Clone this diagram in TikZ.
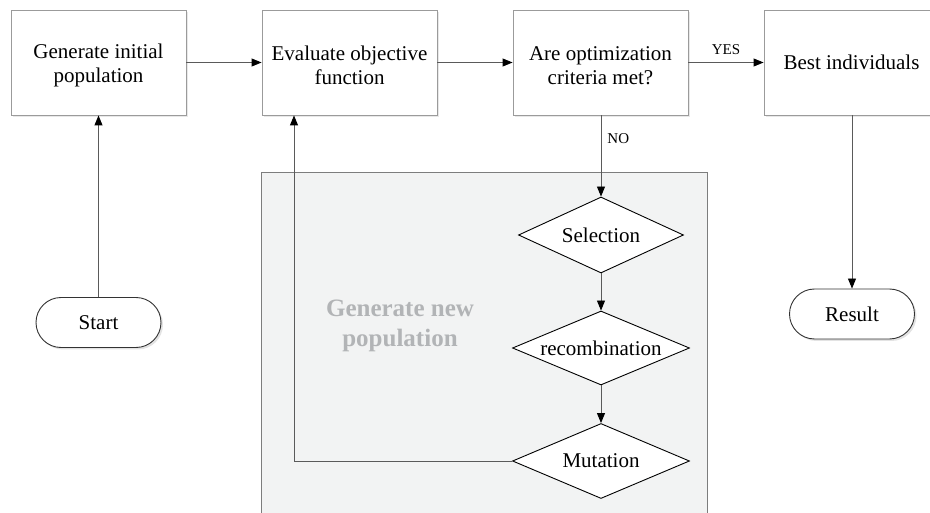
\documentclass[tikz,border=0pt]{standalone}
\usepackage{fontspec}
\setmainfont{Liberation Serif}
\usetikzlibrary{shapes.geometric,shapes.misc,arrows.meta,shadows}
\definecolor{boxline}{RGB}{155,155,155}
\definecolor{panelfill}{RGB}{242,243,243}
\definecolor{panelline}{RGB}{125,125,125}
\definecolor{connline}{RGB}{90,90,90}
\definecolor{paneltext}{RGB}{178,180,182}
\newcommand{\toplift}{\rule{0pt}{19.5pt}}
\begin{document}
\begin{tikzpicture}[x=1pt,y=-1pt,
  procbox/.style={draw=boxline, fill=white, line width=0.9pt, minimum width=175pt, minimum height=105pt,
    align=center, inner sep=0pt, font=\fontsize{21}{24}\selectfont,
    drop shadow={opacity=0.18, shadow xshift=2pt, shadow yshift=-2pt}},
  termbox/.style={rounded rectangle, draw=black!80, fill=white, line width=0.9pt, minimum width=125pt,
    minimum height=50pt, inner sep=0pt, font=\fontsize{21}{24}\selectfont,
    drop shadow={opacity=0.22, shadow xshift=2pt, shadow yshift=-2pt}},
  decbox/.style={diamond, aspect=2.3, draw=black, fill=white, line width=0.9pt, inner sep=0pt,
    font=\fontsize{21}{24}\selectfont},
  connector/.style={draw=connline, line width=0.9pt, -{Triangle[length=10pt,width=8pt,color=black]}},
  lbl/.style={font=\fontsize{15}{18}\selectfont, inner sep=0pt}]
\useasboundingbox (0,0) rectangle (930,513);
% panel
\node[draw=panelline, fill=panelfill, line width=0.9pt, anchor=north west, minimum width=446pt,
  minimum height=370pt, inner sep=0pt] (panel) at (261,172) {};
\node[font=\bfseries\fontsize{25}{30}\selectfont, text=paneltext, align=center] (gnp) at (400,326)
  {Generate new\\population};
% process boxes
\node[procbox] (gen) at (98.5,62.5) {\toplift Generate initial\\population};
\node[procbox] (eval) at (349.5,62.5) {\toplift Evaluate objective\\function};
\node[procbox] (crit) at (600.5,62.5) {\toplift Are optimization\\criteria met?};
\node[procbox] (best) at (851.5,62.5) {Best individuals};
% terminals
\node[termbox] (start) at (98.5,322.5) {Start};
\node[termbox] (result) at (852,314) {Result};
% decisions
\node[decbox, minimum width=165pt, minimum height=76pt] (sel) at (601,235) {Selection};
\node[decbox, minimum width=177pt, minimum height=74pt] (rec) at (601,348) {recombination};
\node[decbox, minimum width=177pt, minimum height=75pt] (mut) at (601,461) {Mutation};
% connectors
\coordinate (fbx) at (294,0);
\draw[connector] (start) -- (gen);
\draw[connector] (gen) -- (eval);
\draw[connector] (eval) -- (crit);
\draw[connector] (crit) -- node[lbl, above, yshift=7pt] (yes) {YES} (best);
\draw[connector] (crit.south -| sel.north) -- node[lbl, right, xshift=6pt, pos=0.28] (no) {NO} (sel.north);
\draw[connector] (sel) -- (rec);
\draw[connector] (rec) -- (mut);
\draw[connector] (best.south -| result.north) -- (result.north);
\draw[connector] (mut.west) -| (eval.south -| fbx);
\end{tikzpicture}
\end{document}
